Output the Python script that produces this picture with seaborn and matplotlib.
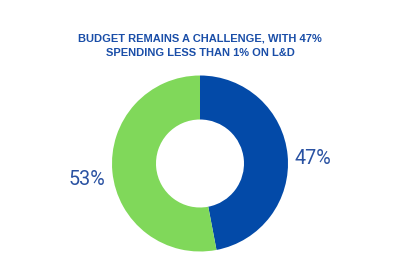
import matplotlib
matplotlib.use("Agg")
import matplotlib.pyplot as plt
import seaborn as sns

categories = ["Less than 1% on L&D", "1% or more on L&D"]
values = [47, 53]
colors = ["#034aa8", "#80d85a"]
title_lines = ["BUDGET REMAINS A CHALLENGE, WITH 47%", "SPENDING LESS THAN 1% ON L&D"]

sns.set_theme(style="white")
plt.rcParams['font.family'] = ['Liberation Sans', 'DejaVu Sans']

fig = plt.figure(figsize=(4, 2.7), dpi=100)
fig.patch.set_facecolor("white")
cx, cy, r = 200, 270 - 163.5, 88
ax = fig.add_axes([(cx - r) / 400, (cy - r) / 270, 2 * r / 400, 2 * r / 270])
wedges, texts, autotexts = ax.pie(
    values, colors=colors, startangle=90, counterclock=False,
    wedgeprops=dict(width=0.5, linewidth=0), radius=1,
    autopct=lambda p: f"{round(p)}%", pctdistance=1.29,
    textprops=dict(color="#2a52a2", fontsize=14.2, family=['Roboto', 'DejaVu Sans'], fontweight='normal'),
)
for t in autotexts:
    x, y = t.get_position()
    t.set_position((x, y - 0.06))
ax.set_xlim(-1, 1)
ax.set_ylim(-1, 1)
ax.set_aspect("equal")
ax.axis("off")

fig.text(0.5, 1 - 39 / 270, title_lines[0], ha="center", va="center",
         fontsize=8.0, fontweight="bold", color="#1a4ea8")
fig.text(0.5, 1 - 52.5 / 270, title_lines[1], ha="center", va="center",
         fontsize=8.0, fontweight="bold", color="#1a4ea8")

fig.savefig("out.png", dpi=100, facecolor="white")
